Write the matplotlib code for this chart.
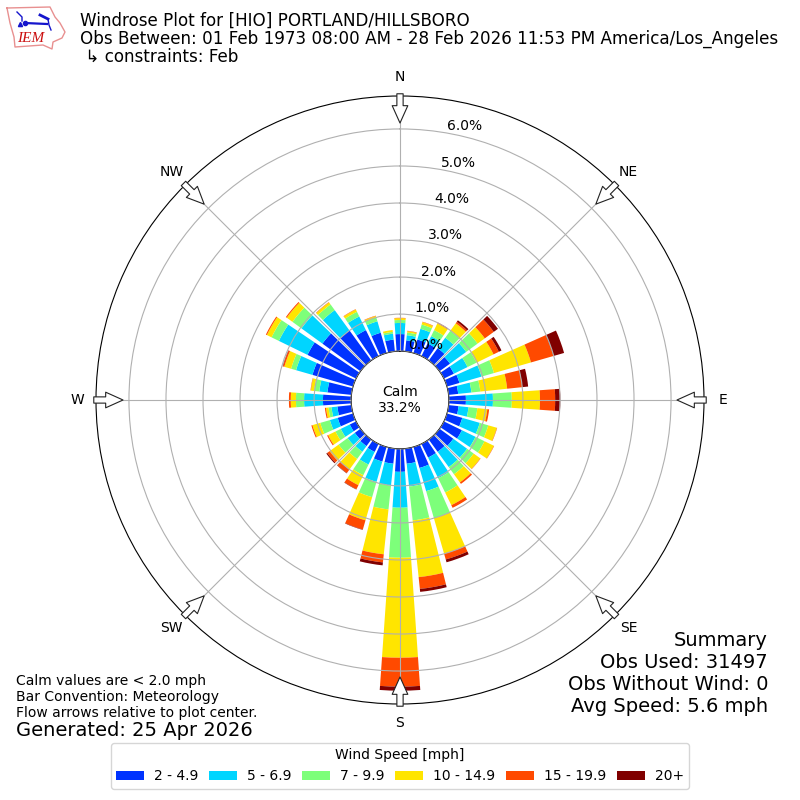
import numpy as np
import matplotlib
matplotlib.use("Agg")
import matplotlib.pyplot as plt

directions = list(range(0, 360, 10))
speed_labels = ["2 - 4.9", "5 - 6.9", "7 - 9.9", "10 - 14.9", "15 - 19.9", "20+"]
colors = ["#0033ff", "#00d5ff", "#7dff7a", "#ffe500", "#ff4a00", "#800000"]

s_2_5 = [.46,.30,.38,.38,.41,.35,.30,.35,.26,.46,.27,.43,.54,.46,.41,.41,.59,.41,
         .62,.41,.41,.24,.22,.19,.19,.43,.38,.76,.65,1.14,1.46,1.27,1.00,.78,.57,.32]
s_5_7 = [.30,.14,.30,.22,.35,.54,.41,.62,.36,.73,.27,.49,.41,.46,.51,.62,.65,.62,
         .97,.59,.57,.38,.19,.24,.27,.22,.16,.51,.22,.46,.86,.70,.68,.41,.32,.16]
s_7_10 = [.08,.07,.12,.18,.23,.38,.27,.35,.24,.51,.24,.24,.27,.22,.24,.43,.76,.92,
          1.35,.65,.43,.32,.24,.30,.16,.27,.08,.22,.14,.14,.22,.30,.19,.14,.11,.05]
s_10_15 = [.05,.04,.07,.20,.25,.24,.51,1.04,.73,.76,.27,.24,.28,.22,.27,.38,1.00,1.54,
           2.70,1.22,.65,.30,.35,.30,.22,.22,.07,.14,.09,.19,.14,.19,.07,.07,.04,.05]
s_15_20 = [.01,.01,.01,.03,.05,.30,.16,.63,.41,.41,.05,.01,.01,.01,.05,.08,.16,.32,
           .78,.22,.26,.12,.12,.08,.03,.03,.03,.05,.01,.04,.03,.03,.01,.01,.01,.00]
s_20 = [.00,.00,.00,.00,.05,.14,.08,.30,.16,.14,.00,.00,.00,.00,.00,.00,.08,.08,
        .11,.08,.01,.01,.01,.03,.00,.00,.00,.00,.00,.01,.00,.00,.00,.00,.00,.00]
series = [s_2_5, s_5_7, s_7_10, s_10_15, s_15_20, s_20]

r_ticks = [0, 1, 2, 3, 4, 5, 6]
compass_deg = [0, 45, 90, 135, 180, 225, 270, 315]
compass_lbl = ["N", "NE", "E", "SE", "S", "SW", "W", "NW"]
calm_pct = 33.2

fig = plt.figure(figsize=(8, 8), dpi=100)
ax = fig.add_axes([96/800, 96/800, 608/800, 608/800], projection="polar")
ax.set_theta_zero_location("N")
ax.set_theta_direction(-1)
ax.set_axisbelow(False)

theta = np.deg2rad(directions)
bottom = np.zeros(len(directions))
handles = []
for vals, col, lab in zip(series, colors, speed_labels):
    v = np.array(vals)
    b = ax.bar(theta, v, width=np.deg2rad(8), bottom=bottom, color=col, label=lab, linewidth=0, zorder=2)
    handles.append(b)
    bottom = bottom + v

rmax = 6.89
ax.set_rorigin(-1.32)
ax.set_ylim(0, rmax)
ax.set_yticks(r_ticks)
ax.set_yticklabels([f"{t:.1f}%" for t in r_ticks], fontsize=10, ha="left", va="bottom")
ax.set_rlabel_position(10)
ax.set_xticks(np.deg2rad(compass_deg))
ax.set_xticklabels(compass_lbl, fontsize=10)
ax.grid(True, color="#b0b0b0", lw=0.8, zorder=3)
ax.tick_params(axis="x", pad=3.2)

for d in compass_deg:
    t = np.deg2rad(d)
    ax.annotate("", xy=(t, 6.16), xytext=(t, 6.95), xycoords="data", textcoords="data",
                annotation_clip=False, zorder=6,
                arrowprops=dict(arrowstyle="simple,head_length=1,head_width=0.9,tail_width=0.36",
                                mutation_scale=12.5, fc="white", ec="#222222", lw=0.8,
                                shrinkA=0, shrinkB=0))

ax.text(0.5, 0.5, f"Calm\n{calm_pct}%", transform=ax.transAxes, ha="center", va="center",
        fontsize=10, zorder=7)

fig.text(80/800, 1 - 12/800,
         "Windrose Plot for [HIO] PORTLAND/HILLSBORO\n"
         "Obs Between: 01 Feb 1973 08:00 AM - 28 Feb 2026 11:53 PM America/Los_Angeles\n"
         " \u21b3 constraints: Feb", fontsize=12.05, va="top", ha="left", linespacing=1.0)

fig.text(16/800, 1 - 720/800,
         "Calm values are < 2.0 mph\nBar Convention: Meteorology\nFlow arrows relative to plot center.",
         fontsize=10, va="bottom", ha="left")
fig.text(16/800, 1 - 740/800, "Generated: 25 Apr 2026", fontsize=14, va="bottom", ha="left")
fig.text(768/800, 1 - 716/800,
         "Summary\nObs Used: 31497\nObs Without Wind: 0\nAvg Speed: 5.6 mph",
         fontsize=14, va="bottom", ha="right", multialignment="right", linespacing=1.2)

fig.legend(handles=handles, labels=speed_labels, title="Wind Speed [mph]", ncol=6, fontsize=10,
           title_fontsize=10, loc="lower center", bbox_to_anchor=(0.5, 11/800), borderaxespad=0,
           columnspacing=0.8, handletextpad=0.7)

# IEM logo
lg = fig.add_axes([0, 1 - 55/800, 70/800, 55/800])
lg.set_xlim(0, 70)
lg.set_ylim(55, 0)
lg.axis("off")
outline_x = [7, 50, 55, 60, 65, 62, 53, 52, 43, 15, 14, 10, 7]
outline_y = [8, 7, 17, 23, 32, 38, 42, 49, 45, 47, 37, 23, 8]
lg.plot(outline_x, outline_y, color="#e89090", lw=1)
lg.plot([25, 47], [23, 24], color="#1515cc", lw=1.6)
lg.plot([17, 22, 22], [12, 17, 21], color="#1515cc", lw=1)
lg.plot([40, 48], [15, 19], color="#1515cc", lw=2)
lg.plot([48, 49, 51], [19, 25, 30], color="#1515cc", lw=1)
lg.plot([20], [24], "^", color="#1515cc", ms=3)
lg.plot([25], [23], "o", color="#1515cc", ms=3)
lg.text(17, 38, "IEM", color="#cc1111", fontsize=11, family="Liberation Serif", style="italic", va="center")

fig.savefig("out.png", dpi=100)
